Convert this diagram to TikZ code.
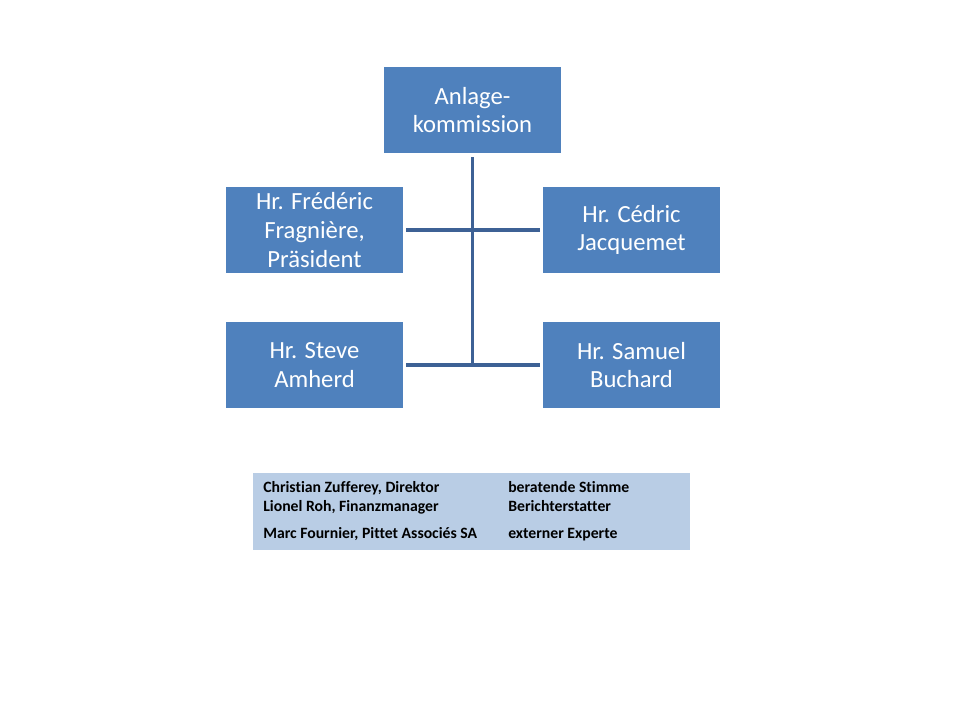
\documentclass[tikz,border=0pt]{standalone}
\usepackage{fontspec}
\setmainfont[Ligatures=CommonOff]{Carlito}
\usepackage{xcolor}
\usetikzlibrary{positioning,calc}
\definecolor{boxblue}{HTML}{4F81BD}
\definecolor{linkblue}{HTML}{3D6195}
\definecolor{tabblue}{HTML}{B9CDE5}
\tikzset{
    member/.style={fill=boxblue, text=white, align=center, minimum width=132.75pt, minimum height=64.5pt, inner sep=0pt, font=\fontsize{18.5}{21.5}\selectfont},
    link/.style={draw=linkblue, line width=2.5pt},
    entry/.style={anchor=base west, inner sep=0pt, font=\fontsize{11.8}{14}\selectfont\bfseries}
}
\begin{document}
\begin{tikzpicture}[x=0.75pt, y=-0.75pt]
    \useasboundingbox (0,0) rectangle (960,720);

    % Boxes
    \node[member] (komm) at (472.5,110) {Anlage-\\kommission};
    \node[member] (fred) at (314.5,230) {Hr. Frédéric\\Fragnière,\\Präsident};
    \node[member] (cedric) at (631.5,230) {Hr. Cédric\\Jacquemet};
    \node[member] (steve) at (314.5,365) {Hr. Steve\\Amherd};
    \node[member] (samuel) at (631.5,365) {Hr. Samuel\\Buchard};

    % Lines
    \draw[link] ([yshift=-3pt]komm.south) -- (komm.south |- steve.east);
    \draw[link, shorten <=2.25pt, shorten >=2.25pt] (fred.east) -- (cedric.west);
    \draw[link, shorten <=2.25pt, shorten >=2.25pt] (steve.east) -- (samuel.west);

    % Advisory table
    \node[fill=tabblue, minimum width=327.75pt, minimum height=57.75pt, inner sep=0pt] (tab) at (471.5,511.5) {};
    \foreach \y/\name/\role in {492/{Christian Zufferey, Direktor}/beratende Stimme, 511/{Lionel Roh, Finanzmanager}/Berichterstatter, 538/{Marc Fournier, Pittet Associés SA}/externer Experte}
    {
        \node[entry] at (263,\y) {\name};
        \node[entry] at (508,\y) {\role};
    }
\end{tikzpicture}
\end{document}
